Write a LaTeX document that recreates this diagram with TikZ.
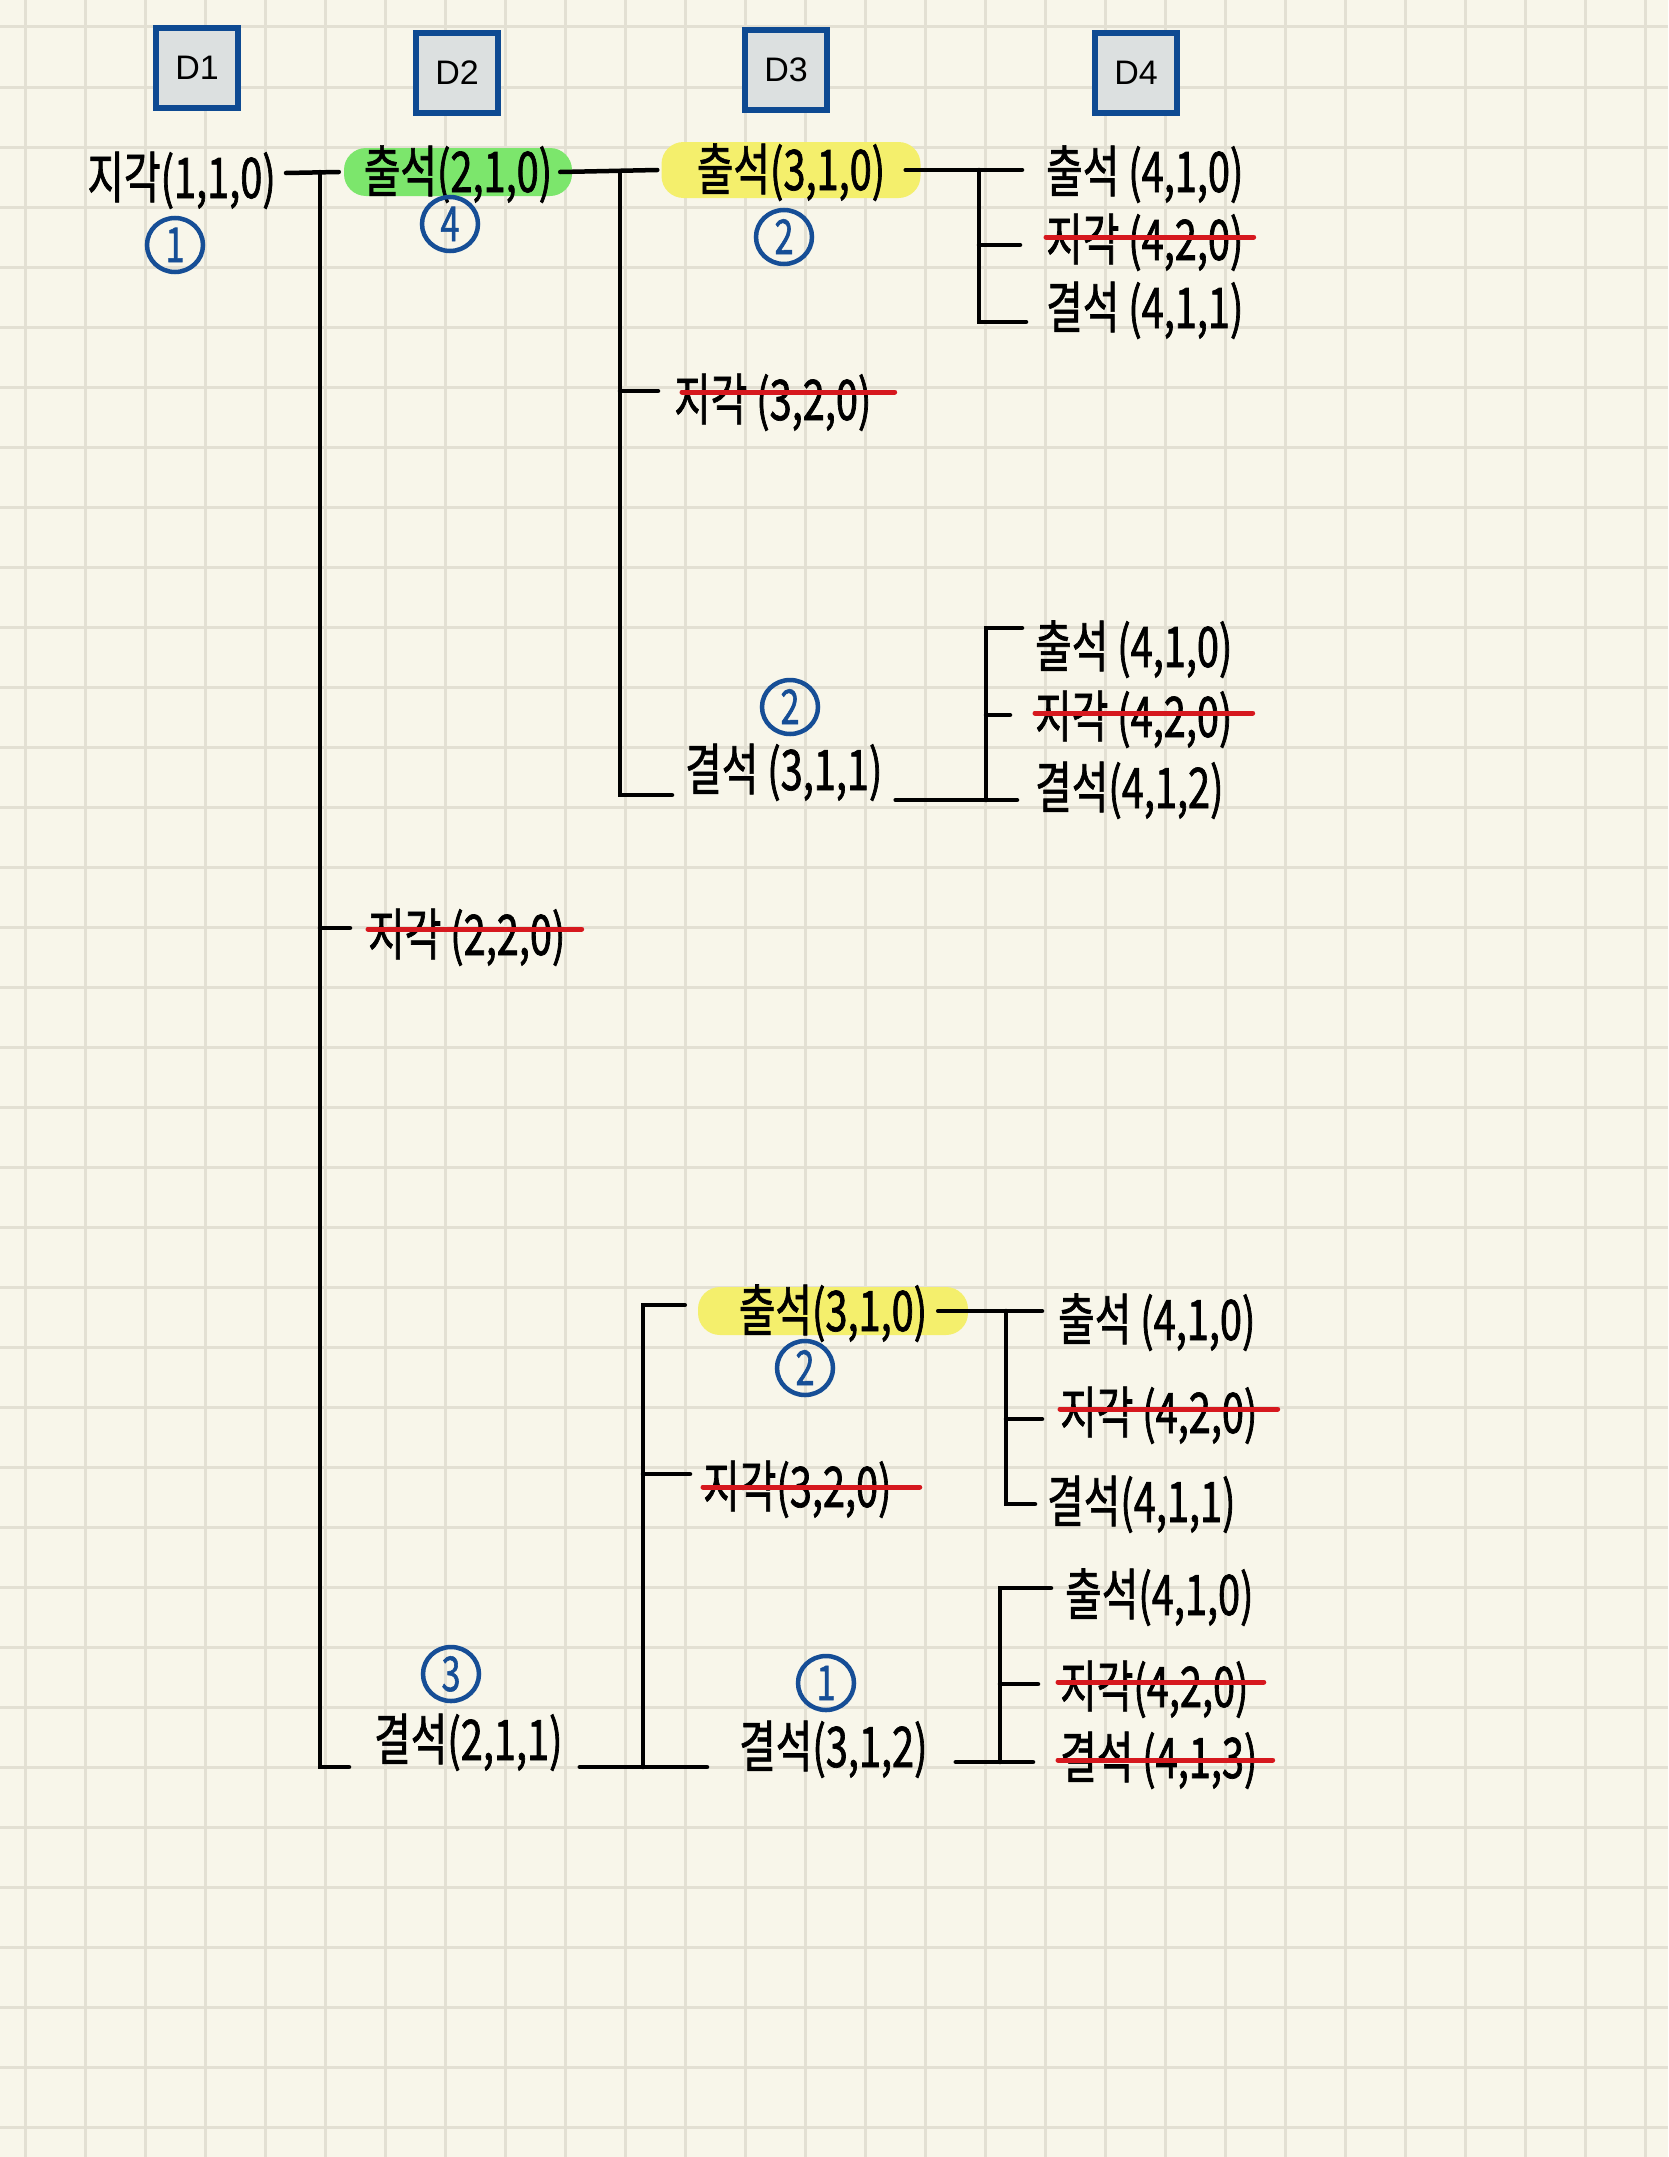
\documentclass[tikz,border=0pt]{standalone}
\usepackage{fontspec}
\usetikzlibrary{shapes.geometric,calc}
\newfontfamily\hand[FakeStretch=0.71,FakeBold=1.2]{Noto Sans CJK KR}
\newfontfamily\boxfont{Liberation Sans}
\definecolor{bgc}{HTML}{F8F6EA}
\definecolor{gridc}{HTML}{E3E0D3}
\definecolor{hlgreen}{HTML}{7CE66C}
\definecolor{hlyellow}{HTML}{F4EF6C}
\definecolor{circblue}{HTML}{164E96}
\definecolor{boxblue}{HTML}{0E4A92}
\definecolor{boxfill}{HTML}{DCE0E0}
\definecolor{strikered}{HTML}{D6181E}
\newcommand{\hsz}{\fontsize{56}{60}\selectfont}
\newcommand{\csz}{\fontsize{48}{52}\selectfont}
\begin{document}
\begin{tikzpicture}[x=1pt,y=-1pt,
  gridl/.style={draw=gridc,line width=3},
  lbl/.style={font=\hand\hsz, inner sep=0pt, text height=44, text depth=4, anchor=west},
  hl/.style={lbl, anchor=center, rounded corners=22, minimum height=#1},
  conn/.style={draw=black, line width=4.5, line cap=round},
  strike/.style={draw=strikered, line width=5, line cap=round},
  circnum/.style={ellipse, draw=circblue, line width=4.5, text=circblue, font=\hand\csz, minimum width=56, minimum height=54, inner sep=0pt, text height=34, text depth=0},
  dbox/.style={draw=boxblue, line width=6, fill=boxfill, minimum width=82, minimum height=80, font=\boxfont\fontsize{34}{40}\selectfont}
]
\fill[bgc] (0,0) rectangle (1668,2157);
\useasboundingbox (0,0) rectangle (1668,2157);
\foreach \i in {0,...,27} \draw[gridl] (25+60*\i,0) -- (25+60*\i,2157);
\foreach \j in {0,...,35} \draw[gridl] (0,27+60*\j) -- (1668,27+60*\j);

% header boxes
\node[dbox] (D1) at (197,68) {D1};
\node[dbox] (D2) at (457,73) {D2};
\node[dbox] (D3) at (786,70) {D3};
\node[dbox] (D4) at (1136,73) {D4};

% level 1
\node[lbl, anchor=east] (n1) at (276,178) {지각(1,1,0)};
\node[circnum] (c1) at (175,245) {1};

% level 2
\node[hl=47, fill=hlgreen, minimum width=228] (n2a) at (458,172) {출석(2,1,0)};
\node[circnum] (c4) at (450,224) {4};
\node[lbl] (n2b) at (368,935) {지각 (2,2,0)};
\node[lbl] (n2c) at (374,1740) {결석(2,1,1)};
\node[circnum] (c3) at (451,1674) {3};

% level 3 upper
\node[hl=56, fill=hlyellow, minimum width=259] (n3a) at (791,170) {출석(3,1,0)};
\node[circnum] (c2a) at (784,237) {2};
\node[lbl] (n3b) at (674,400) {지각 (3,2,0)};
\node[lbl] (n3c) at (685,770) {결석 (3,1,1)};
\node[circnum] (c2b) at (790,707) {2};

% level 3 lower
\node[hl=48, fill=hlyellow, minimum width=270] (n3d) at (833,1311) {출석(3,1,0)};
\node[circnum] (c2c) at (805,1368) {2};
\node[lbl] (n3e) at (703,1487) {지각(3,2,0)};
\node[lbl] (n3f) at (739,1747) {결석(3,1,2)};
\node[circnum] (c1b) at (826,1683) {1};

% level 4
\node[lbl] (kA1) at (1046,172) {출석 (4,1,0)};
\node[lbl] (kA2) at (1046,240) {지각 (4,2,0)};
\node[lbl] (kA3) at (1046,308) {결석 (4,1,1)};
\node[lbl] (kB1) at (1035,647) {출석 (4,1,0)};
\node[lbl] (kB2) at (1035,717) {지각 (4,2,0)};
\node[lbl] (kB3) at (1035,788) {결석(4,1,2)};
\node[lbl] (kC1) at (1058,1320) {출석 (4,1,0)};
\node[lbl] (kC2) at (1060,1413) {지각 (4,2,0)};
\node[lbl] (kC3) at (1047,1502) {결석(4,1,1)};
\node[lbl] (kD1) at (1065,1595) {출석(4,1,0)};
\node[lbl] (kD2) at (1060,1687) {지각(4,2,0)};
\node[lbl] (kD3) at (1060,1758) {결석 (4,1,3)};

% junctions
\coordinate (T1) at (320,172);
\coordinate (J2) at (620,171);
\coordinate (J3) at (643,1767);
\coordinate (jA) at (979,170);
\coordinate (jB) at (986,800);
\coordinate (jC) at (1006,1311);
\coordinate (jD) at (1000,1762);

% level 1 -> 2
\draw[conn] ($(n1.east)+(10,-5)$) -- ([xshift=-5]n2a.west);
\draw[conn] (T1) |- ($(n2c.west)+(-25,27)$);
\draw[conn] ($(T1 |- n2b.west)+(0,-7)$) -- ($(n2b.west)+(-18,-7)$);

% level 2 upper -> 3
\draw[conn] ([xshift=-12]n2a.east) -- ([xshift=-4]n3a.west);
\draw[conn] (J2) |- ($(n3c.west)+(-13,25)$);
\draw[conn] ($(J2 |- n3b.west)+(0,-9)$) -- ($(n3b.west)+(-16,-9)$);

% level 2 lower -> 3
\draw[conn] ($(n2c.east)+(17,27)$) -- ($(n3f.west)+(-32,20)$);
\draw[conn] (J3) |- ($(n3d.west)+(-13,-6)$);
\draw[conn] ($(J3 |- n3e.west)+(0,-13)$) -- ($(n3e.west)+(-13,-13)$);

% group A
\draw[conn] ([xshift=-15]n3a.east) -- ($(kA1.west)+(-24,-2)$);
\draw[conn] (jA) |- ($(kA3.west)+(-20,14)$);
\draw[conn] ($(jA |- kA2.west)+(0,5)$) -- ($(kA2.west)+(-26,5)$);

% group B
\draw[conn] ($(n3c.east)+(13,30)$) -- ($(kB3.west)+(-18,12)$);
\draw[conn] (jB) |- ($(kB1.west)+(-13,-19)$);
\draw[conn] ($(jB |- kB2.west)+(0,-2)$) -- ($(kB2.west)+(-25,-2)$);

% group C
\draw[conn] ([xshift=-30]n3d.east) -- ($(kC1.west)+(-16,-9)$);
\draw[conn] (jC) |- ($(kC3.west)+(-12,2)$);
\draw[conn] ($(jC |- kC2.west)+(0,6)$) -- ($(kC2.west)+(-18,6)$);

% group D
\draw[conn] ($(n3f.east)+(28,15)$) -- ($(kD3.west)+(-27,4)$);
\draw[conn] (jD) |- ($(kD1.west)+(-14,-7)$);
\draw[conn] ($(jD |- kD2.west)+(0,-3)$) -- ($(kD2.west)+(-22,-3)$);

% strike-throughs
\draw[strike] ($(n2b.west)+(0,-6)$) -- ($(n2b.east)+(16,-6)$);
\draw[strike] ($(n3b.west)+(8,-8)$) -- ($(n3b.east)+(23,-8)$);
\draw[strike] ($(kA2.west)+(0,-3)$) -- ($(kA2.east)+(10,-3)$);
\draw[strike] ($(kB2.west)+(0,-4)$) -- ($(kB2.east)+(20,-4)$);
\draw[strike] ($(kC2.west)+(0,-4)$) -- ($(kC2.east)+(20,-4)$);
\draw[strike] ($(n3e.west)+(0,0)$) -- ($(n3e.east)+(28,0)$);
\draw[strike] ($(kD2.west)+(-2,-5)$) -- ($(kD2.east)+(15,-5)$);
\draw[strike] ($(kD3.west)+(-2,2)$) -- ($(kD3.east)+(15,2)$);
\end{tikzpicture}
\end{document}
